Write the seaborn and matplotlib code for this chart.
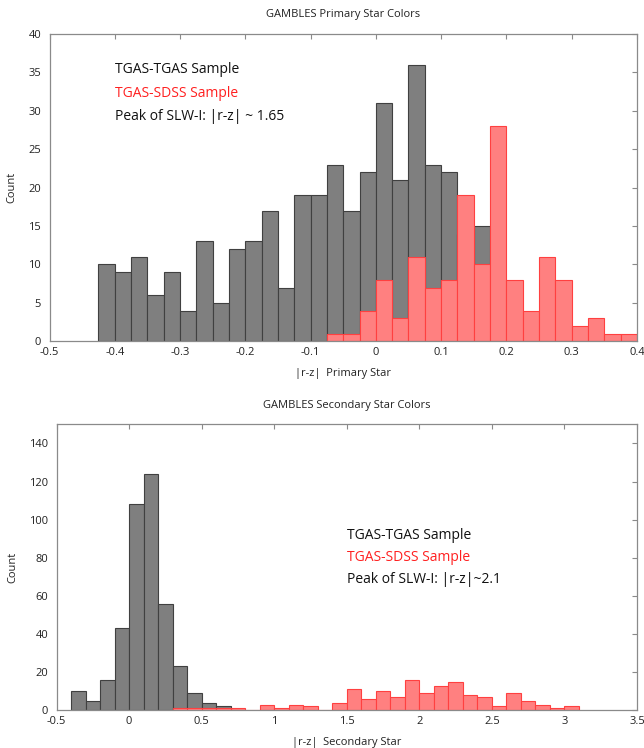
import numpy as np
import pandas as pd
import matplotlib
matplotlib.use("Agg")
import matplotlib.pyplot as plt
import seaborn as sns

sns.set_theme(style="white")
plt.rcParams["font.family"] = ["Open Sans", "DejaVu Sans"]

# ---- Primary star colours (bin width 0.025) ----
primary_gray_start = -0.425
primary_gray_counts = [10, 9, 11, 6, 9, 4, 13, 5, 12, 13, 17, 7,
                       19, 19, 23, 17, 22, 31, 21, 36, 23, 22, 14, 15]
primary_red_start = -0.075
primary_red_counts = [1, 1, 4, 8, 3, 11, 7, 8, 19, 10, 28, 8, 4, 11, 8, 2, 3, 1, 1]
primary_bin_width = 0.025
primary_xticks = [-0.5, -0.4, -0.3, -0.2, -0.1, 0.0, 0.1, 0.2, 0.3, 0.4]
primary_xticklabels = ["-0.5", "-0.4", "-0.3", "-0.2", "-0.1", "0", "0.1", "0.2", "0.3", "0.4"]
primary_yticks = [0, 5, 10, 15, 20, 25, 30, 35, 40]

# ---- Secondary star colours (bin width 0.1) ----
secondary_gray_start = -0.4
secondary_gray_counts = [10, 5, 16, 43, 108, 124, 56, 23, 9, 4, 2]
secondary_red_start = 0.3
secondary_red_counts = [1, 1, 1, 1, 1, 0, 3, 1, 3, 2, 0, 4, 11, 6, 10, 7,
                        16, 9, 13, 15, 8, 7, 2, 9, 5, 3, 1, 2]
secondary_bin_width = 0.1
secondary_xticks = [-0.5, 0, 0.5, 1, 1.5, 2, 2.5, 3, 3.5]
secondary_xticklabels = ["-0.5", "0", "0.5", "1", "1.5", "2", "2.5", "3", "3.5"]
secondary_yticks = [0, 20, 40, 60, 80, 100, 120, 140]

GRAY_FACE = "#7f7f7f"
GRAY_EDGE = "#404040"
RED_FACE = "#ff8080"
RED_EDGE = "#ff4040"
SPINE = "#8a8a8a"
SMALL = 8


def binned_frame(start, counts, width):
    n = len(counts)
    centers = start + width * (np.arange(n) + 0.5)
    return pd.DataFrame({"value": centers, "count": np.asarray(counts, dtype=float)})


def draw_hist(ax, start, counts, width, face, edge):
    df = binned_frame(start, counts, width)
    n = len(counts)
    sns.histplot(data=df, x="value", weights="count", binwidth=width,
                 binrange=(start, start + n * width), ax=ax,
                 color=face, edgecolor=edge, linewidth=0.8, alpha=1.0)


def style_axes(ax):
    for s in ax.spines.values():
        s.set_color(SPINE)
        s.set_linewidth(0.9)
    ax.tick_params(direction="in", length=3.5, width=0.8, color=SPINE,
                   top=True, right=True, labelsize=SMALL, labelcolor="#222222",
                   pad=4)
    ax.tick_params(axis="y", pad=6)


fig = plt.figure(figsize=(6.44, 7.48), dpi=100)

# Top panel: primary stars
ax1 = fig.add_axes([0.0769, 0.5437, 0.9121, 0.4108])
draw_hist(ax1, primary_gray_start, primary_gray_counts, primary_bin_width, GRAY_FACE, GRAY_EDGE)
draw_hist(ax1, primary_red_start, primary_red_counts, primary_bin_width, RED_FACE, RED_EDGE)
ax1.set_xlim(-0.5, 0.4)
ax1.set_ylim(0, 40)
ax1.set_xticks(primary_xticks)
ax1.set_xticklabels(primary_xticklabels)
ax1.set_yticks(primary_yticks)
ax1.set_xlabel("|r-z|  Primary Star", fontsize=SMALL, color="#222222", labelpad=7)
ax1.set_ylabel("Count", fontsize=SMALL, color="#222222", labelpad=8)
ax1.set_title("GAMBLES Primary Star Colors", fontsize=SMALL, color="#222222", pad=12)
style_axes(ax1)
ax1.text(0.1115, 0.883, "TGAS-TGAS Sample", transform=ax1.transAxes,
         fontsize=10, color="#111111", va="center")
ax1.text(0.1115, 0.808, "TGAS-SDSS Sample", transform=ax1.transAxes,
         fontsize=10, color="#ff2020", va="center")
ax1.text(0.1115, 0.733, "Peak of SLW-I: |r-z| ~ 1.65", transform=ax1.transAxes,
         fontsize=10, color="#111111", va="center")

# Bottom panel: secondary stars
ax2 = fig.add_axes([0.0879, 0.0504, 0.9011, 0.3823])
draw_hist(ax2, secondary_gray_start, secondary_gray_counts, secondary_bin_width, GRAY_FACE, GRAY_EDGE)
draw_hist(ax2, secondary_red_start, secondary_red_counts, secondary_bin_width, RED_FACE, RED_EDGE)
ax2.set_xlim(-0.5, 3.5)
ax2.set_ylim(0, 150)
ax2.set_xticks(secondary_xticks)
ax2.set_xticklabels(secondary_xticklabels)
ax2.set_yticks(secondary_yticks)
ax2.set_xlabel("|r-z|  Secondary Star", fontsize=SMALL, color="#222222", labelpad=7)
ax2.set_ylabel("Count", fontsize=SMALL, color="#222222", labelpad=8)
ax2.set_title("GAMBLES Secondary Star Colors", fontsize=SMALL, color="#222222", pad=12)
style_axes(ax2)
ax2.text(0.5, 0.613, "TGAS-TGAS Sample", transform=ax2.transAxes,
         fontsize=10, color="#111111", va="center")
ax2.text(0.5, 0.536, "TGAS-SDSS Sample", transform=ax2.transAxes,
         fontsize=10, color="#ff2020", va="center")
ax2.text(0.5, 0.459, "Peak of SLW-I: |r-z|~2.1", transform=ax2.transAxes,
         fontsize=10, color="#111111", va="center")

fig.savefig("out.png", dpi=100)
